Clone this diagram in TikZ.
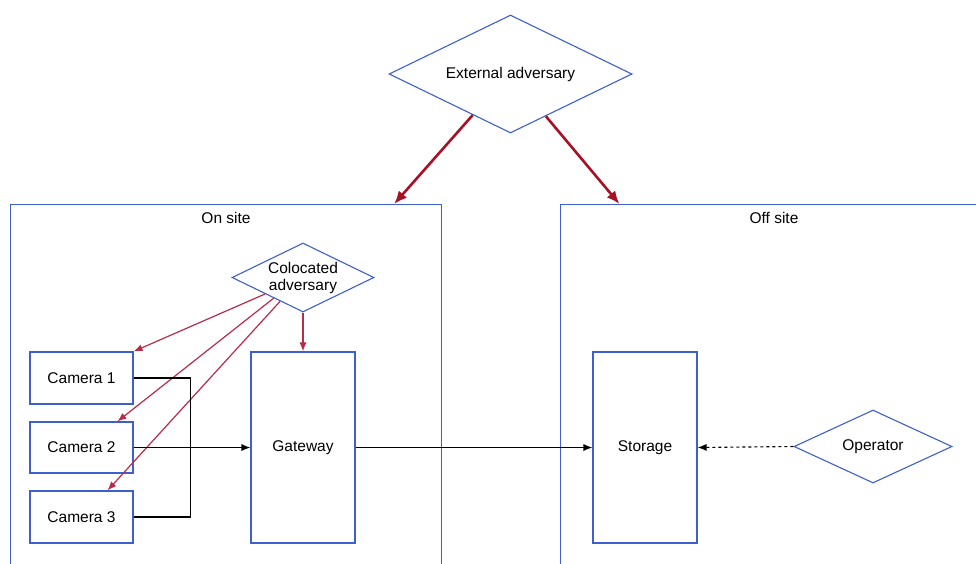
\documentclass[tikz,border=0pt]{standalone}
\usepackage{fontspec}
\setmainfont{Liberation Sans}
\usetikzlibrary{arrows.meta,positioning,shapes.geometric,calc}
\definecolor{boxblue}{RGB}{62,96,206}
\definecolor{advred}{RGB}{168,16,38}
\definecolor{colred}{RGB}{184,44,74}

\tikzset{
  box/.style={draw=boxblue,line width=1.1pt,inner sep=0pt,fill=white},
  threat/.style={draw=boxblue,line width=1.1pt,diamond,inner sep=0pt,align=center,fill=white},
  extarrow/.style={advred,line width=2.6pt,-{Latex[length=13pt,width=11pt]}},
  colarrow/.style={colred,line width=1.2pt,-{Latex[length=9pt,width=7pt]}},
  flow/.style={black,line width=1.1pt,-{Latex[length=9pt,width=7pt]}}
}

\begin{document}
\begin{tikzpicture}[x=1pt,y=-1pt,font=\fontsize{15.5}{17}\selectfont]
        \path[use as bounding box,clip] (0,0) rectangle (976,563);
        % the two sites, cut off at the bottom
        \node[box,anchor=north west,minimum width=431pt,minimum height=420pt] (onsite) at (10,204) {};
        \node[box,anchor=north west,minimum width=520pt,minimum height=420pt] (offsite) at (560,204) {};
        \node (onsitelbl) at (226,218) {On site};
        \node (offsitelbl) at (774,218) {Off site};
        % adversaries and operator
        \node[threat,shape aspect=2.06,minimum width=243pt,minimum height=118pt] (extadv) at (510.5,74) {External adversary};
        \node[threat,shape aspect=2.06,minimum width=142pt,minimum height=69pt] (coladv) at (303,277.5) {Colocated\\adversary};
        \node[threat,shape aspect=2.16,minimum width=158pt,minimum height=73pt] (operator) at (873,446.5) {Operator};
        % devices
        \node[box,minimum width=103pt,minimum height=52pt] (cam1) at (81.5,378) {Camera 1};
        \node[box,minimum width=103pt,minimum height=51pt] (cam2) at (81.5,447.5) {Camera 2};
        \node[box,minimum width=103pt,minimum height=52pt] (cam3) at (81.5,517) {Camera 3};
        \node[box,minimum width=104pt,minimum height=191pt] (gateway) at (303,447.5) {Gateway};
        \node[box,minimum width=104pt,minimum height=191pt] (storage) at (645,447.5) {Storage};

        % attack paths
        \draw[extarrow] ($(extadv.west)!0.69!(extadv.south)$) -- ($(onsite.north west)!0.889!(onsite.north east)$);
        \draw[extarrow] ($(extadv.east)!0.71!(extadv.south)$) -- ($(offsite.north west)!0.114!(offsite.north east)$);
        \draw[colarrow] ($(coladv.west)!0.47!(coladv.south)$) -- (cam1.north east);
        \draw[colarrow] ($(coladv.west)!0.59!(coladv.south)$) -- ($(cam2.north)!0.69!(cam2.north east)$);
        \draw[colarrow] ($(coladv.west)!0.68!(coladv.south)$) -- ($(cam3.north)!0.5!(cam3.north east)$);
        \draw[colarrow] (coladv.south) -- (gateway.north);

        % data flow
        \draw[black,line width=1.1pt] (cam1.east) -- ++(57,0) |- (cam3.east);
        \draw[flow] (cam2.east) -- (gateway.west);
        \draw[flow] (gateway.east) -- (storage.west);
        \draw[flow,dashed] (operator.west) -- (storage.east);
      \end{tikzpicture}
\end{document}
